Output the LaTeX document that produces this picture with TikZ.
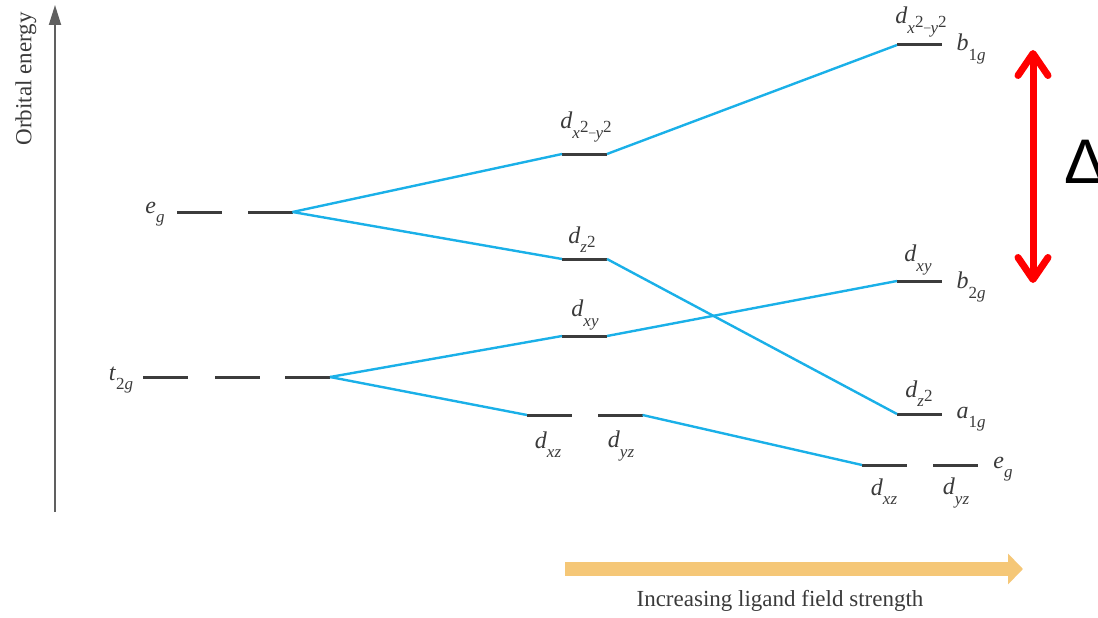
\documentclass[tikz,border=0pt]{standalone}
\usepackage{fontspec}
\setmainfont{Liberation Serif}
\newfontfamily\deltafont{Liberation Sans}
\usetikzlibrary{arrows.meta}
\definecolor{levcol}{HTML}{3C3C3C}
\definecolor{cycol}{HTML}{1AB0E8}
\definecolor{txtcol}{HTML}{3A3A3A}
\definecolor{orgcol}{HTML}{F5C777}
\definecolor{axcol}{HTML}{606060}
\newcommand{\sub}[1]{\raisebox{-0.38em}{\fontsize{17}{17}\selectfont\itshape #1}}
\newcommand{\subsq}{\raisebox{-0.38em}{\fontsize{17}{17}\selectfont\textit{x}\raisebox{0.32em}{2}\kern0.03em{\fontsize{13}{13}\selectfont\raisebox{0.1em}{–}}\textit{y}\raisebox{0.32em}{2}}}
\newcommand{\subzz}{\raisebox{-0.38em}{\fontsize{17}{17}\selectfont\textit{z}\raisebox{0.32em}{2}}}
\begin{document}
\begin{tikzpicture}[x=1pt,y=-1pt,
  orblev/.style={rectangle, fill=levcol, minimum width=45pt, minimum height=3pt, inner sep=0pt, outer sep=0pt},
  lab/.style={text=txtcol, font=\fontsize{24}{26}\selectfont, inner sep=0pt},
  conn/.style={draw=cycol, line width=2.4pt}]
\useasboundingbox (0,0) rectangle (1098,618);
% axis
\coordinate (axb) at (55,512);
\coordinate (axt) at (55,5);
\draw[axcol, line width=1.8pt, -{Triangle[length=20pt,width=12pt]}] (axb) -- (axt);
\node[lab, rotate=90, font=\fontsize{23}{24}\selectfont] (ylab) at (26,79) {Orbital energy};
% octahedral levels
\node[orblev] (eg1) at (199.5,212) {};
\node[orblev] (eg2) at (270,212) {};
\node[orblev] (t1) at (165.5,377) {};
\node[orblev] (t2) at (237.5,377) {};
\node[orblev] (t3) at (307.5,377) {};
\node[lab] (leg) at (155,214) {\textit{e}\sub{g}};
\node[lab] (lt2g) at (121,380) {\textit{t}\sub{\upshape 2\itshape g}};
% middle levels
\node[orblev] (m1) at (584.5,154) {};
\node[orblev] (m2) at (584.5,259) {};
\node[orblev] (m3) at (584.5,336) {};
\node[orblev] (m4) at (549.5,415) {};
\node[orblev] (m5) at (620,415) {};
\node[lab] (lm1) at (586,127) {\textit{d}\subsq};
\node[lab] (lm2) at (582,240) {\textit{d}\subzz};
\node[lab] (lm3) at (585,315) {\textit{d}\sub{xy}};
\node[lab] (lm4) at (548,445) {\textit{d}\sub{xz}};
\node[lab] (lm5) at (621,446) {\textit{d}\sub{yz}};
% right levels
\node[orblev] (r1) at (919.5,45) {};
\node[orblev] (r2) at (919.5,281) {};
\node[orblev] (r3) at (919.5,414) {};
\node[orblev] (r4) at (884.5,465) {};
\node[orblev] (r5) at (955,465) {};
\node[lab] (lr1) at (921,22) {\textit{d}\subsq};
\node[lab] (lr1s) at (971,49) {\textit{b}\sub{\upshape 1\itshape g}};
\node[lab] (lr2) at (918,260) {\textit{d}\sub{xy}};
\node[lab] (lr2s) at (971,287) {\textit{b}\sub{\upshape 2\itshape g}};
\node[lab] (lr3) at (919,394) {\textit{d}\subzz};
\node[lab] (lr3s) at (971,419) {\textit{a}\sub{\upshape 1\itshape g}};
\node[lab] (lr4) at (884,492) {\textit{d}\sub{xz}};
\node[lab] (lr5) at (956,493) {\textit{d}\sub{yz}};
\node[lab] (lr6) at (1003,469) {\textit{e}\sub{g}};
% connectors
\draw[conn] (eg2.east) -- (m1.west);
\draw[conn] (eg2.east) -- (m2.west);
\draw[conn] (m1.east) -- (r1.west);
\draw[conn] (m2.east) -- (r3.west);
\draw[conn] (t3.east) -- (m3.west);
\draw[conn] (t3.east) -- (m4.west);
\draw[conn] (m3.east) -- (r2.west);
\draw[conn] (m5.east) -- (r4.west);
% Delta arrow
\coordinate (dtop) at (1033,50);
\coordinate (dbot) at (1033,283);
\draw[red, line width=7pt, line cap=round, {Straight Barb[length=22pt,width=30pt,round]}-{Straight Barb[length=22pt,width=30pt,round]}] (dtop) -- (dbot);
\node[anchor=west, inner sep=0pt, font=\deltafont\fontsize{63}{63}\selectfont] (delta) at (1064,162) {Δ};
% ligand field arrow
\coordinate (fa) at (565,569);
\coordinate (fb) at (1023,569);
\draw[orgcol, line width=14pt, -{Triangle[length=15pt,width=30pt]}] (fa) -- (fb);
\node[lab, font=\fontsize{23}{24}\selectfont] (flab) at (780,601) {Increasing ligand field strength};
\end{tikzpicture}
\end{document}
